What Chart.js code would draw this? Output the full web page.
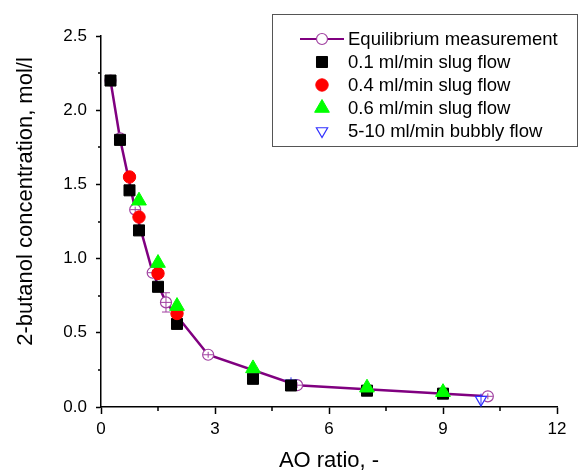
<!DOCTYPE html>
<html><head><meta charset="utf-8">
<script src="https://cdn.jsdelivr.net/npm/chart.js@4"></script>
<style>html,body{margin:0;padding:0;background:#fff}canvas{display:block}</style>
</head><body>
<canvas id="c" width="579" height="471"></canvas>
<script>
const xTicks = [0, 3, 6, 9, 12];
const yTicks = [0.0, 0.5, 1.0, 1.5, 2.0, 2.5];
const xMinor = [1.5, 4.5, 7.5, 10.5];
const yMinor = [0.25, 0.75, 1.25, 1.75, 2.25];
const xTitle = 'AO ratio, -';
const yTitle = '2-butanol concentration, mol/l';
const seriesNames = ['Equilibrium measurement', '0.1 ml/min slug flow', '0.4 ml/min slug flow', '0.6 ml/min slug flow', '5-10 ml/min bubbly flow'];

const eqX = [0.25, 0.5, 0.9, 1.36, 1.71, 2.82, 5.16, 10.18];
const eqY = [2.20, 1.81, 1.33, 0.905, 0.705, 0.352, 0.147, 0.072];
const eqErr = [0.02, 0.02, 0.02, 0.02, 0.065, 0.02, 0.02, 0.02];
const f01X = [0.25, 0.5, 0.75, 1.0, 1.5, 2.0, 4.0, 5.0, 7.0, 9.0];
const f01Y = [2.20, 1.80, 1.46, 1.19, 0.81, 0.56, 0.19, 0.145, 0.11, 0.09];
const f04X = [0.75, 1.0, 1.5, 2.0];
const f04Y = [1.55, 1.28, 0.90, 0.63];
const f06X = [1.0, 1.5, 2.0, 4.0, 7.0, 9.0];
const f06Y = [1.39, 0.97, 0.68, 0.26, 0.13, 0.10];
const bubX = [5.0, 10.0];
const bubY = [0.16, 0.05];
const bubErr = [0.04, 0.04];

const FONT = 'Liberation Sans, Arial, sans-serif';
const PURPLE = '#800080';
const PURPLE_L = '#a040a0';
const BLUE = '#3030ff';

const pts = (xs, ys) => xs.map((x, i) => ({x: x, y: ys[i]}));

const styles = [
  {shape: 'circle', r: 5.5, fill: '#fff', stroke: PURPLE_L, lw: 1.2, line: true},
  {shape: 'rect', r: 7.8, fill: '#000', stroke: '#000', lw: 1},
  {shape: 'circle', r: 6.2, fill: '#ff0000', stroke: '#ff0000', lw: 1},
  {shape: 'triangle', r: 8.5, fill: '#00ff00', stroke: '#00ff00', lw: 1},
  {shape: 'triangle', r: 6.5, fill: '#fff', stroke: BLUE, lw: 1.2, rot: 180}
];

function drawMarker(ctx, s, x, y) {
  ctx.save();
  ctx.fillStyle = s.fill; ctx.strokeStyle = s.stroke; ctx.lineWidth = s.lw;
  ctx.beginPath();
  if (s.shape === 'circle') {
    ctx.arc(x, y, s.r, 0, Math.PI * 2);
  } else if (s.shape === 'rect') {
    const h = Math.SQRT1_2 * s.r;
    ctx.rect(x - h, y - h, 2 * h, 2 * h);
  } else {
    let a = (s.rot || 0) * Math.PI / 180;
    for (let k = 0; k < 3; k++) {
      const px = x + Math.sin(a) * s.r, py = y - Math.cos(a) * s.r;
      if (k === 0) ctx.moveTo(px, py); else ctx.lineTo(px, py);
      a += 2 * Math.PI / 3;
    }
    ctx.closePath();
  }
  ctx.fill(); ctx.stroke();
  ctx.restore();
}

const errorBars = {
  id: 'errorBars',
  afterDatasetDraw(chart, args) {
    const ctx = chart.ctx, xs = chart.scales.x, ys = chart.scales.y;
    let X, Y, E, col, cross;
    if (args.index === 0) { X = eqX; Y = eqY; E = eqErr; col = PURPLE_L; cross = true; }
    else if (args.index === 4) { X = bubX; Y = bubY; E = bubErr; col = BLUE; cross = false; }
    else return;
    ctx.save();
    ctx.strokeStyle = col; ctx.lineWidth = 1;
    for (let i = 0; i < X.length; i++) {
      const px = xs.getPixelForValue(X[i]);
      const py = ys.getPixelForValue(Y[i]);
      const top = ys.getPixelForValue(Y[i] + E[i]);
      const bot = ys.getPixelForValue(Y[i] - E[i]);
      ctx.beginPath();
      ctx.moveTo(px, top); ctx.lineTo(px, bot);
      if (py - top > 6) {
        ctx.moveTo(px - 4, top); ctx.lineTo(px + 4, top);
        ctx.moveTo(px - 4, bot); ctx.lineTo(px + 4, bot);
      }
      if (cross) { ctx.moveTo(px - 5, py); ctx.lineTo(px + 5, py); }
      ctx.stroke();
    }
    ctx.restore();
  }
};

const minorTicks = {
  id: 'minorTicks',
  afterDraw(chart) {
    const ctx = chart.ctx, xs = chart.scales.x, ys = chart.scales.y;
    const a = chart.chartArea;
    ctx.save();
    ctx.strokeStyle = '#000'; ctx.lineWidth = 1.5;
    ctx.beginPath();
    xMinor.forEach(v => { const p = Math.round(xs.getPixelForValue(v)); ctx.moveTo(p, a.bottom); ctx.lineTo(p, a.bottom + 4); });
    yMinor.forEach(v => { const p = Math.round(ys.getPixelForValue(v)); ctx.moveTo(a.left, p); ctx.lineTo(a.left - 3, p); });
    ctx.stroke();
    ctx.restore();
  }
};

const axisTitles = {
  id: 'axisTitles',
  afterDraw(chart) {
    const ctx = chart.ctx, a = chart.chartArea;
    ctx.save();
    ctx.font = '22px ' + FONT;
    ctx.fillStyle = '#000';
    ctx.textAlign = 'center';
    ctx.textBaseline = 'middle';
    ctx.fillText(xTitle, (a.left + a.right) / 2, 461);
    ctx.translate(26, 201.5);
    ctx.rotate(-Math.PI / 2);
    ctx.fillText(yTitle, 0, 0);
    ctx.restore();
  }
};

const legendBox = {
  id: 'legendBox',
  afterDraw(chart) {
    const ctx = chart.ctx;
    ctx.save();
    ctx.strokeStyle = '#555'; ctx.lineWidth = 1;
    ctx.strokeRect(272.5, 14.5, 305, 132);
    const rowY = [39, 62, 85, 108, 131];
    const mx = 322, tx = 348;
    ctx.font = '18.5px ' + FONT;
    ctx.fillStyle = '#000';
    ctx.textBaseline = 'middle';
    ctx.textAlign = 'left';
    seriesNames.forEach((name, i) => {
      const y = rowY[i];
      if (styles[i].line) {
        ctx.save();
        ctx.strokeStyle = PURPLE; ctx.lineWidth = 2;
        ctx.beginPath(); ctx.moveTo(300, y); ctx.lineTo(344, y); ctx.stroke();
        ctx.restore();
      }
      drawMarker(ctx, styles[i], mx, y);
      ctx.fillStyle = '#000';
      ctx.fillText(name, tx, y + 1);
    });
    ctx.restore();
  }
};

function ds(label, data, s, order) {
  return {
    label: label, data: data, order: order,
    showLine: !!s.line, borderColor: s.line ? PURPLE : s.stroke, borderWidth: s.line ? 2.5 : 0,
    tension: 0,
    pointStyle: s.shape, pointRadius: s.r, pointRotation: s.rot || 0,
    pointBackgroundColor: s.fill, pointBorderColor: s.stroke, pointBorderWidth: s.lw,
    clip: false
  };
}

new Chart(document.getElementById('c'), {
  type: 'scatter',
  data: {
    datasets: [
      ds(seriesNames[0], pts(eqX, eqY), styles[0], 5),
      ds(seriesNames[1], pts(f01X, f01Y), styles[1], 3),
      ds(seriesNames[2], pts(f04X, f04Y), styles[2], 2),
      ds(seriesNames[3], pts(f06X, f06Y), styles[3], 1),
      ds(seriesNames[4], pts(bubX, bubY), styles[4], 4)
    ]
  },
  options: {
    responsive: false, animation: false,
    layout: {padding: {top: 36, right: 22, left: 0, bottom: 0}},
    plugins: {legend: {display: false}, tooltip: {enabled: false}},
    scales: {
      x: {
        type: 'linear', min: 0, max: 12,
        afterBuildTicks: s => { s.ticks = xTicks.map(v => ({value: v})); },
        ticks: {font: {family: FONT, size: 17}, color: '#000', padding: 5, maxRotation: 0, callback: v => String(v)},
        grid: {display: true, drawOnChartArea: false, drawTicks: true, tickLength: 7, tickColor: '#000', tickWidth: 1.5},
        border: {display: true, color: '#000', width: 1.5},
        title: {display: false},
        afterFit: s => { s.height = 64; }
      },
      y: {
        type: 'linear', min: 0, max: 2.5,
        afterBuildTicks: s => { s.ticks = yTicks.map(v => ({value: v})); },
        ticks: {font: {family: FONT, size: 17}, color: '#000', padding: 9, callback: v => v.toFixed(1)},
        grid: {display: true, drawOnChartArea: false, drawTicks: true, tickLength: 5, tickColor: '#000', tickWidth: 1.5},
        border: {display: true, color: '#000', width: 1.5},
        title: {display: false},
        afterFit: s => { s.width = 101; }
      }
    }
  },
  plugins: [errorBars, minorTicks, axisTitles, legendBox]
});
</script>
</body></html>
